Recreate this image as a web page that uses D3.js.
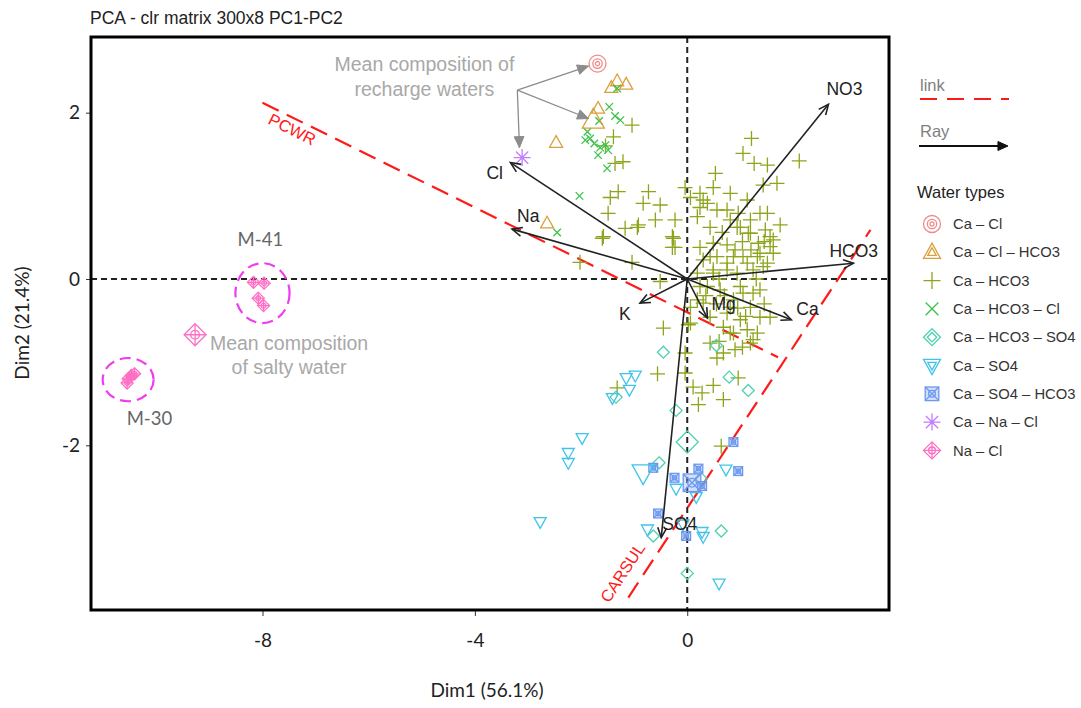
<!DOCTYPE html>
<html>
<head>
<meta charset="utf-8">
<script src="https://cdn.jsdelivr.net/npm/d3@7"></script>
<style>
  body { margin: 0; background: #fff; }
  text { font-family: "Liberation Sans", Arial, sans-serif; }
  .lato { font-family: Lato, "Open Sans", sans-serif; }
</style>
</head>
<body>
<svg id="chart" width="1081" height="708"></svg>
<script>
// ---- data (PCA scores) ----
let caCl = [];   // only the mean sample
let caClHco3 = [[-1.32,2.38],[-1.43,2.30],[-1.15,2.34],[-1.68,2.05],[-2.47,1.64],[-2.64,0.67]];
let caHco3 = [
  [-1.04,1.85],[-1.39,1.71],[-1.21,1.41],[-1.36,1.39],[-1.54,1.60],[-1.45,0.98],[-1.30,1.05],[-0.73,1.05],
  [-0.83,0.91],[-0.51,0.89],[-1.49,0.79],[-0.92,0.65],[-1.17,0.61],[-0.60,0.71],[-1.60,0.49],[-0.26,0.49],
  [-0.28,0.38],[-1.04,0.20],[-2.02,0.20],[-0.04,1.10],[1.21,1.69],[1.05,1.51],[1.26,1.39],[1.51,1.37],
  [2.11,1.42],[0.53,1.27],[1.69,1.15],[1.43,1.13],[0.49,1.10],[0.24,1.03],[0.81,1.03],[1.13,0.95],
  [0.38,0.91],[0.56,0.83],[0.75,0.83],[0.96,0.79],[1.51,0.79],[1.75,0.65],[-0.23,0.71],[0.19,0.75],
  [0.43,0.62],[0.66,0.56],[0.94,0.62],[1.19,0.55],[1.56,0.51],[1.34,0.43],[1.04,0.45],[0.49,0.43],
  [0.24,0.38],[-0.28,0.51],[-0.23,0.38],[-0.94,0.62],[-1.58,0.51],[1.62,0.31],[1.32,0.27],[0.87,0.27],
  [0.56,0.27],[0.30,0.23],[1.13,0.19],[1.43,0.15],[0.75,0.11],[0.49,0.11],[0.19,0.07],[-0.51,-0.03],
  [0.38,-0.09],[0.62,-0.13],[1.00,-0.09],[1.24,-0.17],[0.87,-0.25],[1.19,-0.34],[0.75,-0.41],[1.00,-0.49],
  [0.68,-0.58],[1.13,-0.61],[0.87,-0.65],[1.24,-0.73],[-0.45,-0.59],[1.56,-0.46],[0.06,-0.34],[0.19,-0.25],
  [0.06,-0.53],[-0.56,-1.14],[-0.04,-1.13],[0.11,-1.30],[0.28,-1.37],[0.49,-1.28],[0.21,-1.51],[0.68,-1.45],
  [0.96,-1.19],[0.56,-0.95],[0.68,-0.89],[1.04,-0.82],[1.19,-0.77],[0.64,-2.01],[-1.32,-1.31],[1.37,-0.46],
  [0.81,-0.65],[0.43,-0.77],[1.32,-0.65],[-0.04,-0.89],[0.02,-0.55],[0.43,0.27],[0.75,0.19],[1.05,0.27],
  [1.37,0.31],[1.56,0.39],[0.49,0.07],[0.94,0.07],[1.24,0.11],[1.51,0.19],[0.24,-0.09],[1.05,-0.17],
  [1.37,-0.13],[0.30,-0.29],[0.81,-0.34],[0.43,-0.46],[0.75,0.41],[1.15,0.55],[1.00,0.62],[0.81,0.71],
  [0.24,0.86],[0.06,0.98],[0.30,0.95],[1.37,0.79],[1.19,0.71],[1.47,0.59],[1.62,0.47],[0.55,-0.30],
  [0.95,-0.35],[0.60,-0.75],[0.90,-0.85],[1.10,-0.45],[0.35,-0.20],[1.45,-0.30],[0.70,-0.20],[1.30,0.00],
  [0.60,0.00],[0.90,0.35],[1.20,0.35],[1.45,0.45]
];
let caHco3Cl = [
  [-1.32,2.29],[-1.47,2.07],[-1.36,1.96],[-1.26,1.91],[-1.66,1.90],[-1.88,1.77],[-1.92,1.67],[-1.83,1.69],
  [-1.75,1.63],[-1.64,1.58],[-1.68,1.49],[-1.49,1.55],[-1.54,1.61],[-1.51,1.33],[-2.03,1.00],[-2.45,0.56]
];
let caHco3So4 = [
  [-0.45,-0.88],[0.55,-0.80],[0.79,-1.18],[1.15,-1.34],[-0.21,-1.58],[-0.53,-2.21],[-1.34,-1.42],
  [0.26,-2.40],[-0.64,-3.09],[0.64,-3.03],[0.00,-3.54]
];
let caSo4 = [
  [-0.98,-1.16],[-1.15,-1.19],[-1.09,-1.33],[-1.41,-1.43],[-1.98,-1.91],[-2.24,-2.09],[-2.24,-2.21],
  [-0.21,-2.52],[0.17,-2.62],[0.73,-2.29],[-0.75,-3.01],[-0.08,-2.95],[0.28,-3.04],[0.30,-3.10],
  [0.60,-3.66],[-2.77,-2.92]
];
let caSo4Hco3 = [
  [0.87,-1.96],[-0.64,-2.27],[0.96,-2.31],[-0.24,-2.39],[0.21,-2.28],[0.28,-2.49],[-0.55,-2.82],[-0.02,-3.09]
];
let caNaCl = [];
let naCl = [
  [-8.17,-0.04],[-7.97,-0.05],[-8.08,-0.23],[-7.98,-0.32],
  [-10.55,-1.25],[-10.47,-1.16],[-10.41,-1.14],[-10.53,-1.20]
];

// mean composition of each water type (drawn larger)
let meanType = ["Ca – Cl","Ca – Cl – HCO3","Ca – Na – Cl","Na – Cl","Ca – HCO3 – SO4","Ca – SO4","Ca – SO4 – HCO3"];
let meanX = [-1.69,-1.77,-3.11,-9.27,0.00,-0.83,0.09];
let meanY = [2.59,1.91,1.46,-0.67,-1.96,-2.33,-2.45];

// loading rays
let varNames = ["NO3","HCO3","Cl","Na","K","Mg","Ca","SO4"];
let varX = [2.66,3.13,-3.33,-3.30,-0.89,0.38,1.96,-0.49];
let varY = [2.10,0.19,1.40,0.60,-0.29,-0.47,-0.49,-3.11];

// mixing lines
let linkNames = ["PCWR","CARSUL"];
let linkX1 = [-8.00,-1.11], linkY1 = [2.12,-3.83];
let linkX2 = [1.71,3.45],   linkY2 = [-0.94,0.59];

// sample groups circled
let groupNames = ["M-41","M-30"];
let groupX = [-8.0,-10.53], groupY = [-0.17,-1.21];
let groupRx = [0.51,0.48], groupRy = [0.36,0.26];

let typeNames = ["Ca – Cl","Ca – Cl – HCO3","Ca – HCO3","Ca – HCO3 – Cl","Ca – HCO3 – SO4",
                 "Ca – SO4","Ca – SO4 – HCO3","Ca – Na – Cl","Na – Cl"];
let typeShapes = ["circle","triangle","plus","cross","diamond","triDown","squareX","star","diamondPlus"];
let typeColors = ["#f08a8a","#d9a03c","#8ca51c","#3cc24a","#4fd0b0","#40c4ea","#6c98f0","#c47cff","#ff6ec4"];
let typeData = [caCl, caClHco3, caHco3, caHco3Cl, caHco3So4, caSo4, caSo4Hco3, caNaCl, naCl];

let xTicks = [-8,-4,0], yTicks = [-2,0,2];

// ---- layout ----
let svg = d3.select("#chart");
let pLeft = 91, pRight = 889, pTop = 37, pBottom = 610;

let x = d3.scaleLinear().domain([-11.23, 3.80]).range([pLeft, pRight]);
let y = d3.scaleLinear().domain([2.91, -3.98]).range([pTop, pBottom]);

svg.append("rect").attr("width",1081).attr("height",708).attr("fill","#fff");

svg.append("text")
    .attr("x", 90).attr("y", 24)
    .attr("font-size", 17.5).attr("fill", "#222")
    .text("PCA - clr matrix 300x8 PC1-PC2");

// axes
let xAxis = svg.append("g")
    .attr("transform", "translate(0," + pBottom + ")")
    .call(d3.axisBottom(x).tickValues(xTicks).tickSize(6).tickPadding(18).tickFormat(d => String(d)));
let yAxis = svg.append("g")
    .attr("transform", "translate(" + pLeft + ",0)")
    .call(d3.axisLeft(y).tickValues(yTicks).tickSize(5).tickPadding(6).tickFormat(d => String(d)));
[xAxis, yAxis].forEach(a => {
  a.select(".domain").remove();
  a.selectAll("text").attr("class","lato").attr("font-size", 19).attr("fill","#222");
  a.selectAll("line").attr("stroke","#333");
});

svg.append("text").attr("class","lato")
    .attr("x", 487).attr("y", 697).attr("text-anchor","middle")
    .attr("font-size", 19).attr("fill","#222")
    .text("Dim1 (56.1%)");
svg.append("text").attr("class","lato")
    .attr("transform","translate(29,323) rotate(-90)").attr("text-anchor","middle")
    .attr("font-size", 19).attr("fill","#222")
    .text("Dim2 (21.4%)");

// zero lines
let zero = svg.append("g").attr("stroke","#222").attr("stroke-width",2).attr("stroke-dasharray","6,4");
zero.append("line").attr("x1", x(0)).attr("x2", x(0)).attr("y1", pTop).attr("y2", pBottom);
zero.append("line").attr("x1", pLeft).attr("x2", pRight).attr("y1", y(0)).attr("y2", y(0));

// ---- symbol drawing ----
function triPath(s, down) {
  let h = s * 0.9, k = down ? -1 : 1;
  return "M0," + (-k*h*0.6) + "L" + (s/2) + "," + (k*h*0.4) + "L" + (-s/2) + "," + (k*h*0.4) + "Z";
}
function drawShape(g, shape, s, color, dbl) {
  let sw = 1.3;
  let o = g.append("g").attr("fill","none").attr("stroke", color).attr("stroke-width", sw);
  let h = s / 2;
  if (shape == "circle") {
    o.append("circle").attr("r", h);
    o.append("circle").attr("r", h * 0.55);
    if (dbl) o.append("circle").attr("r", h * 0.25);
  } else if (shape == "triangle" || shape == "triDown") {
    let dn = shape == "triDown";
    o.append("path").attr("d", triPath(s, dn));
    if (dbl) o.append("path").attr("d", triPath(s * 0.5, dn));
  } else if (shape == "plus") {
    o.append("path").attr("d", "M" + (-h) + ",0H" + h + "M0," + (-h) + "V" + h);
  } else if (shape == "cross") {
    let c = h * 0.75;
    o.append("path").attr("d", "M" + (-c) + "," + (-c) + "L" + c + "," + c + "M" + (-c) + "," + c + "L" + c + "," + (-c));
  } else if (shape == "diamond") {
    o.append("path").attr("d", "M0," + (-h) + "L" + h + ",0L0," + h + "L" + (-h) + ",0Z");
    if (dbl) o.append("path").attr("d", "M0," + (-h*0.55) + "L" + (h*0.55) + ",0L0," + (h*0.55) + "L" + (-h*0.55) + ",0Z");
  } else if (shape == "squareX") {
    let c = h * 0.8;
    o.append("rect").attr("x", -c).attr("y", -c).attr("width", 2*c).attr("height", 2*c)
      .attr("fill", color).attr("fill-opacity", 0.3);
    o.append("path").attr("d", "M" + (-c) + "," + (-c) + "L" + c + "," + c + "M" + (-c) + "," + c + "L" + c + "," + (-c));
    o.append("circle").attr("r", c * 0.5);
  } else if (shape == "star") {
    let c = h * 0.72;
    o.append("path").attr("d", "M" + (-h) + ",0H" + h + "M0," + (-h) + "V" + h +
      "M" + (-c) + "," + (-c) + "L" + c + "," + c + "M" + (-c) + "," + c + "L" + c + "," + (-c));
  } else if (shape == "diamondPlus") {
    o.append("path").attr("d", "M0," + (-h) + "L" + h + ",0L0," + h + "L" + (-h) + ",0Z");
    o.append("path").attr("d", "M" + (-h) + ",0H" + h + "M0," + (-h) + "V" + h);
    o.append("circle").attr("r", h * 0.4);
  }
  return o;
}
let sizeOf = {circle:12, triangle:13, plus:15, cross:10, diamond:12, triDown:12, squareX:11, star:12, diamondPlus:12};

// ---- mixing lines (behind points) ----
let links = svg.append("g");
linkNames.forEach((n, i) => {
  links.append("line")
    .attr("x1", x(linkX1[i])).attr("y1", y(linkY1[i]))
    .attr("x2", x(linkX2[i])).attr("y2", y(linkY2[i]))
    .attr("stroke", "#ff1a1a").attr("stroke-width", 2.2).attr("stroke-dasharray", "18,9");
});
// labels along the lines
function lineAngle(i) {
  return Math.atan2(y(linkY2[i]) - y(linkY1[i]), x(linkX2[i]) - x(linkX1[i])) * 180 / Math.PI;
}
links.append("text")
  .attr("transform", "translate(" + x(-7.44) + "," + y(1.80) + ") rotate(" + lineAngle(0) + ")")
  .attr("text-anchor","middle").attr("dy","0.35em")
  .attr("font-size", 16.5).attr("fill", "#ff1a1a").text("PCWR");
links.append("text")
  .attr("transform", "translate(" + x(-1.22) + "," + y(-3.53) + ") rotate(" + lineAngle(1) + ")")
  .attr("text-anchor","middle").attr("dy","0.35em")
  .attr("font-size", 16.5).attr("fill", "#ff1a1a").text("CARSUL");

// ---- points ----
let pts = svg.append("g");
typeData.forEach((arr, t) => {
  arr.forEach(d => {
    let g = pts.append("g").attr("transform", "translate(" + x(d[0]) + "," + y(d[1]) + ")");
    drawShape(g, typeShapes[t], sizeOf[typeShapes[t]], typeColors[t], false);
  });
});
meanType.forEach((name, i) => {
  let t = typeNames.indexOf(name);
  let g = pts.append("g").attr("transform", "translate(" + x(meanX[i]) + "," + y(meanY[i]) + ")");
  let s = name == "Ca – Na – Cl" ? 17 : (name == "Ca – Cl" ? 17 : 22);
  drawShape(g, typeShapes[t], s, typeColors[t], name == "Ca – Cl");
});

// ---- group ellipses ----
groupNames.forEach((n, i) => {
  svg.append("ellipse")
    .attr("cx", x(groupX[i])).attr("cy", y(groupY[i]))
    .attr("rx", x(groupX[i] + groupRx[i]) - x(groupX[i]))
    .attr("ry", y(groupY[i] - groupRy[i]) - y(groupY[i]))
    .attr("fill","none").attr("stroke","#f03cf0").attr("stroke-width",2.2)
    .attr("stroke-dasharray","11,6");
});
svg.append("text").attr("class","lato").attr("x", x(-8.04)).attr("y", y(0.40))
  .attr("text-anchor","middle").attr("font-size",18.5).attr("fill","#666").text("M-41");
svg.append("text").attr("class","lato").attr("x", x(-10.13)).attr("y", y(-1.75))
  .attr("text-anchor","middle").attr("font-size",18.5).attr("fill","#666").text("M-30");

// ---- loading rays ----
function arrowHead(g, x1, y1, x2, y2, len, color, filled) {
  let a = Math.atan2(y2 - y1, x2 - x1), w = 0.42;
  let p1 = [x2 - len * Math.cos(a - w), y2 - len * Math.sin(a - w)];
  let p2 = [x2 - len * Math.cos(a + w), y2 - len * Math.sin(a + w)];
  if (filled) {
    g.append("path").attr("d", "M" + p1 + "L" + x2 + "," + y2 + "L" + p2 + "Z").attr("fill", color).attr("stroke", color);
  } else {
    g.append("path").attr("d", "M" + p1 + "L" + x2 + "," + y2 + "L" + p2)
      .attr("fill","none").attr("stroke", color).attr("stroke-width", 1.6);
  }
}
let rays = svg.append("g");
let labOff = {NO3:[-2,-9,"start"], HCO3:[-24,-6,"start"], Cl:[-24,16,"start"], Na:[5,-7,"start"],
              K:[-21,17,"start"], Mg:[4,-8,"start"], Ca:[5,-5,"start"], SO4:[1,-8,"start"]};
varNames.forEach((n, i) => {
  let x2 = x(varX[i]), y2 = y(varY[i]);
  rays.append("line").attr("x1", x(0)).attr("y1", y(0)).attr("x2", x2).attr("y2", y2)
    .attr("stroke","#222").attr("stroke-width",1.6);
  arrowHead(rays, x(0), y(0), x2, y2, 11, "#222", false);
  let o = labOff[n];
  rays.append("text").attr("x", x2 + o[0]).attr("y", y2 + o[1]).attr("text-anchor", o[2])
    .attr("font-size",17.5).attr("fill","#222").text(n);
});

// ---- annotations ----
let ann = svg.append("g").attr("class","lato").attr("fill","#a8a8a8").attr("font-size",19.5).attr("text-anchor","middle");
ann.append("text").attr("x", x(-4.95)).attr("y", y(2.50)).text("Mean composition of");
ann.append("text").attr("x", x(-4.95)).attr("y", y(2.20)).text("recharge waters");
ann.append("text").attr("x", x(-7.50)).attr("y", y(-0.85)).text("Mean composition");
ann.append("text").attr("x", x(-7.50)).attr("y", y(-1.14)).text("of salty water");

let bx = -3.20, by = 2.27;
let annTargetsX = [-1.86,-1.86,-3.16], annTargetsY = [2.56,1.93,1.58];
let annG = svg.append("g");
annTargetsX.forEach((tx, i) => {
  annG.append("line").attr("x1", x(bx)).attr("y1", y(by)).attr("x2", x(tx)).attr("y2", y(annTargetsY[i]))
    .attr("stroke","#8c8c8c").attr("stroke-width",1.3);
  arrowHead(annG, x(bx), y(by), x(tx), y(annTargetsY[i]), 12, "#8c8c8c", true);
});

// ---- frame ----
svg.append("rect").attr("x", pLeft).attr("y", pTop).attr("width", pRight - pLeft).attr("height", pBottom - pTop)
  .attr("fill","none").attr("stroke","#000").attr("stroke-width",3);

// ---- legend ----
let lg = svg.append("g").attr("class","lato");
lg.append("text").attr("x", 920).attr("y", 91).attr("font-size",16.5).attr("fill","#808080").text("link");
lg.append("line").attr("x1", 920).attr("x2", 1009).attr("y1", 99).attr("y2", 99)
  .attr("stroke","#ff1a1a").attr("stroke-width",2.2).attr("stroke-dasharray","17,10");
lg.append("text").attr("x", 920).attr("y", 137).attr("font-size",16.5).attr("fill","#808080").text("Ray");
lg.append("line").attr("x1", 919).attr("x2", 1006).attr("y1", 146).attr("y2", 146)
  .attr("stroke","#111").attr("stroke-width",1.8);
arrowHead(lg, 919, 146, 1008, 146, 11, "#111", true);
lg.append("text").attr("x", 917).attr("y", 198).attr("font-size",16.5).attr("fill","#222").text("Water types");

typeNames.forEach((n, i) => {
  let yy = 224 + i * 28.3;
  let g = lg.append("g").attr("transform", "translate(932," + yy + ")");
  drawShape(g, typeShapes[i], 17, typeColors[i], true);
  lg.append("text").attr("x", 953).attr("y", yy).attr("dy","0.35em")
    .attr("font-size",14.8).attr("fill","#333").text(n);
});
</script>
</body>
</html>
